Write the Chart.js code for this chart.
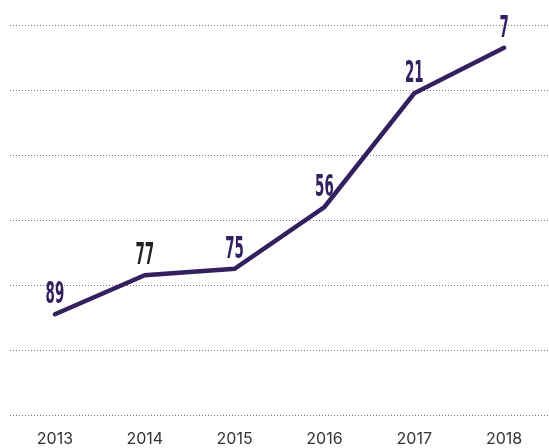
<!DOCTYPE html>
<html lang="en">
<head>
  <meta charset="UTF-8">
  <title>Ranking</title>
  <script src="https://cdn.jsdelivr.net/npm/chart.js"></script>
  <style>
    body { margin: 0; background: #fff; }
    #grafico { display: block; }
  </style>
</head>
<body>
  <canvas id="grafico" width="549" height="448"></canvas>

<script>
  // ranking por ano (menor = melhor, por isso o eixo y é invertido)
  const anos = ['2013', '2014', '2015', '2016', '2017', '2018'];
  const posicoes = [89, 77, 75, 56, 21, 7];
  const ticksY = [0, 20, 40, 60, 80, 100, 120];

  const roxo = '#33215f';
  const coresRotulo = [roxo, '#222222', roxo, roxo, roxo, roxo];

  // rótulos estreitos em cima de cada ponto
  const rotulosPlugin = {
    id: 'rotulos',
    afterDatasetsDraw(chart) {
      const ctx = chart.ctx;
      const meta = chart.getDatasetMeta(0);
      meta.data.forEach((ponto, i) => {
        ctx.save();
        ctx.translate(ponto.x, ponto.y - 11);
        ctx.scale(0.48, 1);
        ctx.font = 'bold 31px "Liberation Sans Narrow", "DejaVu Sans Condensed", sans-serif';
        ctx.fillStyle = coresRotulo[i];
        ctx.textAlign = 'center';
        ctx.textBaseline = 'alphabetic';
        ctx.fillText(String(posicoes[i]), 0, 0);
        ctx.restore();
      });
    }
  };

  const ctx = document.getElementById('grafico');
  new Chart(ctx, {
    type: 'line',
    data: {
      labels: anos,
      datasets: [{
        data: posicoes,
        borderColor: roxo,
        borderWidth: 4.5,
        borderCapStyle: 'round',
        borderJoinStyle: 'miter',
        pointRadius: 0,
        tension: 0,
        fill: false
      }]
    },
    options: {
      responsive: false,
      animation: false,
      layout: { padding: { left: 10, right: -3, top: 25, bottom: 0 } },
      plugins: {
        legend: { display: false },
        tooltip: { enabled: false }
      },
      scales: {
        x: {
          offset: true,
          afterFit: axis => { axis.height = 33; },
          grid: { display: false },
          border: { display: false },
          ticks: {
            color: '#333333',
            font: { family: 'Inter, Roboto, sans-serif', size: 16 },
            maxRotation: 0,
            padding: 7
          }
        },
        y: {
          reverse: true,
          min: 0,
          max: 120,
          afterBuildTicks: axis => { axis.ticks = ticksY.map(v => ({ value: v })); },
          ticks: { display: false },
          border: { display: false, dash: [1, 2] },
          grid: {
            color: '#7a7a7a',
            lineWidth: 1,
            drawTicks: false
          }
        }
      }
    },
    plugins: [rotulosPlugin]
  });
</script>
</body>
</html>
